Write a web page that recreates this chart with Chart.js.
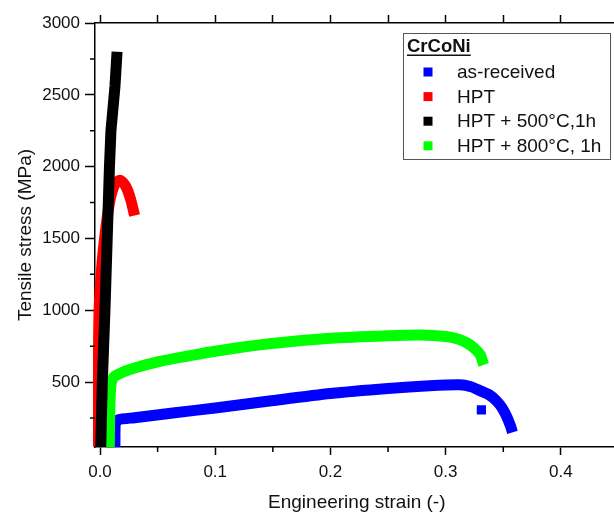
<!DOCTYPE html>
<html>
<head>
<meta charset="utf-8">
<script src="https://cdn.jsdelivr.net/npm/chart.js@4/dist/chart.umd.min.js"></script>
<style>
  body { margin: 0; overflow: hidden; background: #fff; }
  #wrap { width: 625px; height: 512px; }
</style>
</head>
<body>
<div id="wrap"><canvas id="chart" width="625" height="512"></canvas></div>
<script>
// values
const legendTitle = 'CrCoNi';
const seriesLabels = ['as-received', 'HPT', 'HPT + 500°C,1h', 'HPT + 800°C, 1h'];
const seriesColors = ['#0000ff', '#ff0000', '#000000', '#00ff00'];

const asReceivedStrain = [0.013, 0.013, 0.0135, 0.016, 0.03, 0.065, 0.1, 0.147, 0.2, 0.25, 0.286, 0.312, 0.322, 0.33, 0.338, 0.344, 0.349, 0.353, 0.356, 0.358];
const asReceivedStress = [0, 150, 215, 238, 252, 286, 320, 368, 420, 455, 474, 481, 468, 440, 410, 370, 320, 260, 200, 150];
const asReceivedStrayStrain = [0.331];
const asReceivedStrayStress = [307];

const hptStrain = [-0.002, -0.0015, -0.0008, 0.001, 0.0026, 0.006, 0.009, 0.013, 0.017, 0.021, 0.024, 0.027, 0.030];
const hptStress = [50, 500, 1000, 1250, 1400, 1630, 1780, 1880, 1905, 1880, 1835, 1760, 1660];

const hpt500Strain = [0.0005, 0.002, 0.0043, 0.0082, 0.0095, 0.013, 0.0148];
const hpt500Stress = [0, 500, 1000, 2000, 2250, 2560, 2800];

const hpt800Strain = [0.008, 0.0085, 0.0095, 0.012, 0.02, 0.03, 0.05, 0.065, 0.1, 0.147, 0.2, 0.25, 0.278, 0.3, 0.31, 0.318, 0.325, 0.33, 0.333];
const hpt800Stress = [0, 300, 480, 535, 570, 598, 640, 665, 715, 767, 805, 823, 828, 818, 802, 775, 735, 690, 620];

const xTicks = [0, 0.1, 0.2, 0.3, 0.4];
const xMinorTicks = [0.05, 0.15, 0.25, 0.35, 0.45];
const xTopTicks = [0, 0.05, 0.1, 0.15, 0.2, 0.25, 0.3, 0.35, 0.4, 0.45];
const yTicks = [500, 1000, 1500, 2000, 2500, 3000];
const yMinorTicks = [250, 750, 1250, 1750, 2250, 2750];

function pts(xs, ys) { return xs.map((x, i) => ({ x: x, y: ys[i] })); }

const font = 'Arial, "Liberation Sans", sans-serif';

const minorTicks = {
  id: 'minorTicks',
  afterDraw(chart) {
    const ctx = chart.ctx, x = chart.scales.x, y = chart.scales.y;
    ctx.save();
    ctx.strokeStyle = '#000';
    ctx.lineWidth = 1.5;
    ctx.beginPath();
    xMinorTicks.forEach(v => {
      const px = x.getPixelForValue(v);
      ctx.moveTo(px, x.top); ctx.lineTo(px, x.top + 5);
    });
    yMinorTicks.forEach(v => {
      const py = y.getPixelForValue(v);
      ctx.moveTo(y.right, py); ctx.lineTo(y.right - 5, py);
    });
    ctx.stroke();
    ctx.restore();
  }
};

const boxLegend = {
  id: 'boxLegend',
  afterDraw(chart) {
    const ctx = chart.ctx;
    const left = 403, top = 33, w = 207, h = 126;
    ctx.save();
    ctx.fillStyle = '#fff';
    ctx.fillRect(left, top, w, h);
    ctx.strokeStyle = '#555';
    ctx.lineWidth = 1;
    ctx.strokeRect(left + 0.5, top + 0.5, w, h);
    ctx.fillStyle = '#111';
    ctx.textBaseline = 'middle';
    ctx.font = 'bold 18.5px ' + font;
    ctx.fillText(legendTitle, 407, 47);
    const tw = ctx.measureText(legendTitle).width;
    ctx.fillRect(407, 54.5, tw, 1.5);
    ctx.font = '19px ' + font;
    seriesLabels.forEach((lab, i) => {
      const cy = 72 + i * 24.6;
      ctx.fillStyle = seriesColors[i];
      ctx.fillRect(423.5, cy - 4.5, 9, 9);
      ctx.fillStyle = '#111';
      ctx.fillText(lab, 457, cy + 1);
    });
    ctx.restore();
  }
};

const lineSet = (i, data, order, tension) => ({
  label: seriesLabels[i],
  data: data,
  showLine: true,
  borderColor: seriesColors[i],
  backgroundColor: seriesColors[i],
  borderWidth: 11,
  borderCapStyle: 'butt',
  borderJoinStyle: 'round',
  pointRadius: 0,
  tension: tension,
  order: order
});

const hptSet = lineSet(1, pts(hptStrain, hptStress), 2, 0.25);
hptSet.clip = { left: 2, top: 0, right: 0, bottom: 0 };

new Chart(document.getElementById('chart'), {
  type: 'scatter',
  data: {
    datasets: [
      lineSet(0, pts(asReceivedStrain, asReceivedStress), 4, 0.25),
      {
        label: seriesLabels[0] + ' (stray)',
        data: pts(asReceivedStrayStrain, asReceivedStrayStress),
        showLine: false,
        pointStyle: 'rect',
        pointRadius: 6.5,
        borderWidth: 0,
        backgroundColor: seriesColors[0],
        order: 4
      },
      hptSet,
      lineSet(2, pts(hpt500Strain, hpt500Stress), 1, 0),
      lineSet(3, pts(hpt800Strain, hpt800Stress), 3, 0.25)
    ]
  },
  options: {
    responsive: false,
    animation: false,
    layout: { padding: { right: 6 } },
    plugins: { legend: { display: false }, tooltip: { enabled: false } },
    scales: {
      x: {
        type: 'linear', position: 'bottom',
        min: -0.00434, max: 0.45,
        afterBuildTicks: s => { s.ticks = xTicks.map(v => ({ value: v })); },
        afterFit: s => { s.height = 65; },
        border: { display: true, color: '#000', width: 1.5 },
        grid: { drawOnChartArea: false, drawTicks: true, tickLength: 8, tickColor: '#000', tickWidth: 1.5 },
        ticks: { color: '#111', font: { family: font, size: 17 }, padding: 7, maxRotation: 0,
          callback: v => v.toFixed(1) },
        title: { display: true, text: 'Engineering strain (-)', color: '#111',
          font: { family: font, size: 19, lineHeight: 1 }, padding: { top: 0, bottom: 0 } }
      },
      x2: {
        type: 'linear', position: 'top',
        min: -0.00434, max: 0.45,
        afterBuildTicks: s => { s.ticks = xTopTicks.map(v => ({ value: v })); },
        afterFit: s => { s.height = 23; },
        border: { display: true, color: '#000', width: 1.5 },
        grid: { drawOnChartArea: false, drawTicks: true, tickLength: 8, tickColor: '#000', tickWidth: 1.5 },
        ticks: { display: false }
      },
      y: {
        type: 'linear', position: 'left',
        min: 48, max: 3000,
        afterBuildTicks: s => { s.ticks = yTicks.map(v => ({ value: v })); },
        afterFit: s => { s.width = 95; },
        border: { display: true, color: '#000', width: 1.5 },
        grid: { drawOnChartArea: false, drawTicks: true, tickLength: 10, tickColor: '#000', tickWidth: 1.5 },
        ticks: { color: '#111', font: { family: font, size: 17 }, padding: 5, callback: v => String(v) },
        title: { display: true, text: 'Tensile stress (MPa)', color: '#111',
          font: { family: font, size: 19, lineHeight: 1.2 }, padding: { top: 14, bottom: 0 } }
      }
    }
  },
  plugins: [minorTicks, boxLegend]
});
</script>
</body>
</html>
